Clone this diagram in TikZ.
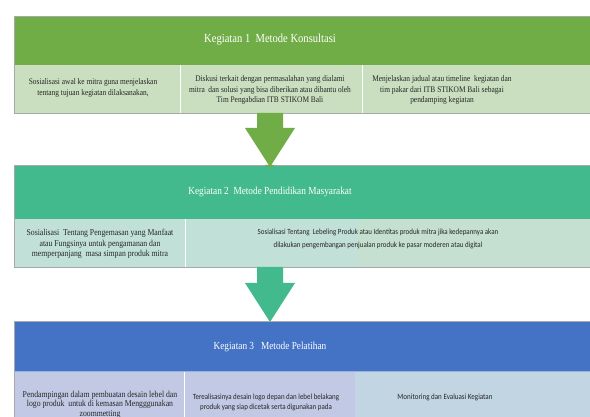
\documentclass[tikz,border=0pt]{standalone}
\usepackage{fontspec}
\setmainfont{Liberation Serif}[FakeStretch=0.86]
\newfontfamily\sansc{Carlito}[FakeStretch=0.88]
\definecolor{gA}{HTML}{70AD47}
\definecolor{gArow}{HTML}{C9DFBF}
\definecolor{tA}{HTML}{43BA8D}
\definecolor{tArow}{HTML}{C1E0D8}
\definecolor{tArowb}{HTML}{C5E0D1}
\definecolor{bA}{HTML}{4472C4}
\definecolor{bArow}{HTML}{C1C9E4}
\definecolor{bArowb}{HTML}{C2D5E3}
\definecolor{edge}{HTML}{A8A8A8}
\tikzset{
  hdr/.style={text=white, font=\fontsize{12.3}{14}\selectfont, inner sep=0pt},
  hdrs/.style={text=white, font=\fontsize{10.8}{13}\selectfont, inner sep=0pt},
  celltxt/.style={align=center, inner sep=0pt, text=black!85, font=\fontsize{8.6}{10.2}\selectfont},
  celltxtb/.style={align=center, inner sep=0pt, text=black!85, font=\fontsize{9}{10.5}\selectfont},
  sanstxt/.style={align=center, inner sep=0pt, text=black!85, font=\sansc\fontsize{7.9}{10}\selectfont},
  divider/.style={white, line width=0.6pt},
  frameedge/.style={edge, line width=0.8pt}
}
\begin{document}
\begin{tikzpicture}[x=1pt,y=-1pt]
\useasboundingbox (0,0) rectangle (590,417);
\clip (0,0) rectangle (590,417);
\fill[white] (0,0) rectangle (590,417);

% ---------- Frame 1 ----------
\fill[gA] (14,16) rectangle (600,65);
\fill[gArow] (14,65) rectangle (600,113);
\draw[divider] (180,65) -- (180,113);
\draw[divider] (362,65) -- (362,113);
\draw[frameedge] (600,16) -- (14,16) -- (14,113) -- (600,113);
\node[hdr] (h1) at (270,40) {Kegiatan 1\ \ Metode Konsultasi};
\node[celltxt] (c11) at (93,88) {Sosialisasi awal ke mitra guna menjelaskan\\tentang tujuan kegiatan dilaksanakan,};
\node[celltxt] (c12) at (270,90) {Diskusi terkait dengan permasalahan yang dialami\\mitra\ \ dan solusi yang bisa diberikan atau dibantu oleh\\Tim Pengabdian ITB STIKOM Bali};
\node[celltxt] (c13) at (442,90) {Menjelaskan jadual atau timeline\ \ kegiatan dan\\tim pakar dari ITB STIKOM Bali sebagai\\pendamping kegiatan};

% ---------- Arrow 1 ----------
\fill[gA] (257,113) -- (283,113) -- (283,128) -- (295,128) -- (270,167) -- (245,128) -- (257,128) -- cycle;

% ---------- Frame 2 ----------
\fill[tA] (14,165) rectangle (600,219);
\fill[tArow] (14,219) rectangle (357,267);
\fill[tArowb] (357,219) rectangle (600,267);
\draw[divider] (185,219) -- (185,267);
\draw[frameedge] (600,165) -- (14,165) -- (14,267) -- (600,267);
\fill[gA] (265,165) -- (275,165) -- (270,168) -- cycle;
\node[hdrs] (h2) at (270,192) {Kegiatan 2\ \ Metode Pendidikan Masyarakat};
\node[celltxtb] (c21) at (100,244) {Sosialisasi\ \ Tentang Pengemasan yang Manfaat\\atau Fungsinya untuk pengamanan dan\\memperpanjang\ \ masa simpan produk mitra};
\node[sanstxt, font=\sansc\fontsize{7.9}{13.5}\selectfont] (c22) at (378,239) {Sosialisasi Tentang\ \ Lebeling\ Produk atau Identitas produk mitra jika kedepannya akan\\dilakukan pengembangan penjualan produk ke pasar moderen atau digital};

% ---------- Arrow 2 ----------
\fill[tA] (257,267) -- (283,267) -- (283,283) -- (295,283) -- (270,322) -- (245,283) -- (257,283) -- cycle;

% ---------- Frame 3 ----------
\fill[bA] (14,321) rectangle (600,371);
\fill[bArow] (14,371) rectangle (355,430);
\fill[bArowb] (355,371) rectangle (600,430);
\draw[divider] (184,371) -- (184,430);
\draw[frameedge] (600,321) -- (14,321) -- (14,430);
\draw[bA!55!white, line width=0.6pt] (14,371) -- (600,371);
\node[hdrs] (h3) at (270,347) {Kegiatan 3\ \ \ Metode Pelatihan};
\node[celltxtb, font=\fontsize{9}{9.6}\selectfont] (c31) at (100,404.5) {Pendampingan dalam pembuatan desain lebel dan\\logo produk\ \ untuk di kemasan Mengggunakan\\zoommetting};
\node[sanstxt] (c32) at (266,402) {Terealisasinya desain logo depan dan lebel belakang\\produk yang siap dicetak serta digunakan pada};
\node[sanstxt, font=\sansc\fontsize{8}{10}\selectfont] (c33) at (445,397) {Monitoring dan Evaluasi Kegiatan};
\end{tikzpicture}
\end{document}
